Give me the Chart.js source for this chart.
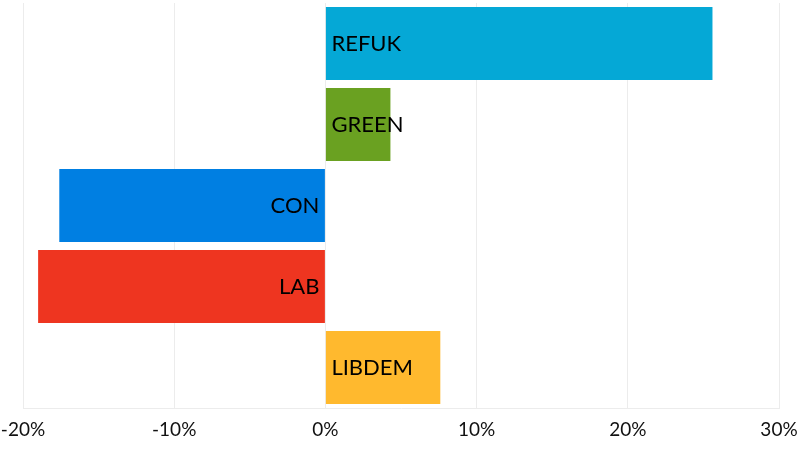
<!DOCTYPE html>
<html><head><meta charset="utf-8">
<script src="https://cdn.jsdelivr.net/npm/chart.js@4/dist/chart.umd.min.js"></script>
<style>html,body{margin:0;padding:0;background:#fff}#w{width:800px;height:450px}</style>
</head><body><div id="w"><canvas id="c"></canvas></div>
<script>
const categories = ["REFUK","GREEN","CON","LAB","LIBDEM"];
const values = [25.6, 4.3, -17.6, -19.0, 7.6];
const colors = ["#05a8d6","#6aa121","#007fe2","#ee3520","#ffb92e"];
const xTicks = [-20,-10,0,10,20,30];

const labelPlugin = {
  id:'inlabels',
  afterDatasetsDraw(chart){
    const ctx = chart.ctx, meta = chart.getDatasetMeta(0), xs = chart.scales.x;
    const base = xs.getPixelForValue(0);
    ctx.save();
    ctx.font = '22px Lato';
    ctx.fillStyle = '#000';
    ctx.textBaseline = 'middle';
    meta.data.forEach((bar,i)=>{
      const v = values[i];
      if (v >= 0){ ctx.textAlign='left'; ctx.fillText(categories[i], base+6, bar.y); }
      else { ctx.textAlign='right'; ctx.fillText(categories[i], base-6, bar.y); }
    });
    ctx.restore();
  }
};

new Chart(document.getElementById('c'), {
  type:'bar',
  data:{labels:categories, datasets:[{data:values, backgroundColor:colors, borderWidth:0, barPercentage:0.9, categoryPercentage:1}]},
  options:{
    indexAxis:'y', responsive:true, maintainAspectRatio:false, animation:false,
    layout:{padding:{top:3,right:0,bottom:0,left:0}},
    plugins:{legend:{display:false}, tooltip:{enabled:false}},
    scales:{
      x:{min:-20,max:30,
        afterBuildTicks(s){ s.ticks = xTicks.map(v=>({value:v})); },
        afterFit(s){ s.height = 42; s.paddingLeft = 23; s.paddingRight = 21; },
        ticks:{callback:v=>v+'%', color:'#111', font:{family:'Lato',size:19}, padding:10, maxRotation:0},
        grid:{color:'#ececec', drawTicks:false},
        border:{color:'#ececec'}
      },
      y:{display:false, grid:{display:false}}
    }
  },
  plugins:[labelPlugin]
});
</script></body></html>
